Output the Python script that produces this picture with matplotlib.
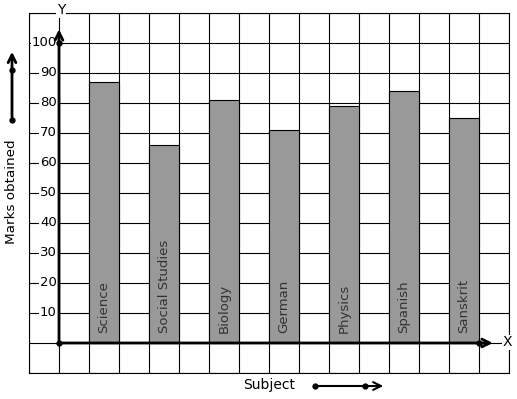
import matplotlib
matplotlib.use("Agg")
import matplotlib.pyplot as plt

subjects = ["Science", "Social Studies", "Biology", "German", "Physics", "Spanish", "Sanskrit"]
marks = [87, 66, 81, 71, 79, 84, 75]
bar_left = [1, 3, 5, 7, 9, 11, 13]
yticks = [10, 20, 30, 40, 50, 60, 70, 80, 90, 100]

fig = plt.figure(figsize=(5.17, 3.99), dpi=100)
W, H = 517, 399
ax = fig.add_axes([29 / W, 26 / H, 480 / W, 360 / H])
ax.set_xlim(-1, 15)
ax.set_ylim(-10, 110)

for x in range(-1, 16):
    ax.axvline(x, color="black", lw=0.8, zorder=1)
for y in range(-10, 111, 10):
    ax.axhline(y, color="black", lw=0.8, zorder=1)
ax.set_xticks([])
ax.set_yticks([])
for s in ax.spines.values():
    s.set_linewidth(0.8)

ax.bar(bar_left, marks, width=1, align="edge", color="#999999",
       edgecolor="black", lw=0.8, zorder=2)
for x, name in zip(bar_left, subjects):
    ax.text(x + 0.5, 3.3, name, rotation=90, ha="center", va="bottom",
            fontsize=9.5, color="#333333", zorder=3)

for v in yticks:
    ax.text(-0.07, v, str(v), ha="right", va="center", fontsize=9.5,
            bbox=dict(facecolor="white", edgecolor="none", pad=0.5), zorder=3)

# axes with arrows
ax.annotate("", xy=(0, 105.5), xytext=(0, 0), annotation_clip=False,
            arrowprops=dict(arrowstyle="->", lw=2, color="black",
                            mutation_scale=14), zorder=4)
ax.annotate("", xy=(14.55, 0), xytext=(0, 0), annotation_clip=False,
            arrowprops=dict(arrowstyle="->", lw=2, color="black",
                            mutation_scale=14), zorder=4)
ax.plot([0, 0, 14], [0, 100, 0], "o", color="black", ms=3.5, zorder=5)
ax.text(0.07, 111, "Y", ha="center", va="center", fontsize=10, clip_on=False,
        bbox=dict(facecolor="white", edgecolor="none", pad=0.5), zorder=5)
ax.text(14.95, 0.3, "X", ha="center", va="center", fontsize=10, clip_on=False,
        bbox=dict(facecolor="white", edgecolor="none", pad=0.3), zorder=5)

# side labels with arrows
fig.text(12 / W, 1 - 192 / H, "Marks obtained", rotation=90, ha="center",
         va="center", fontsize=9.7)
fig.text(269 / W, 1 - 385 / H, "Subject", ha="center", va="center", fontsize=10)
fig.patches.append(matplotlib.patches.FancyArrowPatch(
    (12 / W, 1 - 120 / H), (12 / W, 1 - 49 / H), transform=fig.transFigure,
    arrowstyle="->", lw=2, color="black", mutation_scale=14))
fig.patches.append(matplotlib.patches.FancyArrowPatch(
    (315 / W, 1 - 386 / H), (386 / W, 1 - 386 / H), transform=fig.transFigure,
    arrowstyle="->", lw=1.5, color="black", mutation_scale=14))
fig.lines.append(matplotlib.lines.Line2D(
    [12 / W, 12 / W, 315 / W, 365 / W], [1 - 120 / H, 1 - 70 / H, 1 - 386 / H, 1 - 386 / H],
    transform=fig.transFigure, ls="none", marker="o", ms=3.5, color="black"))

fig.savefig("out.png", dpi=100)
